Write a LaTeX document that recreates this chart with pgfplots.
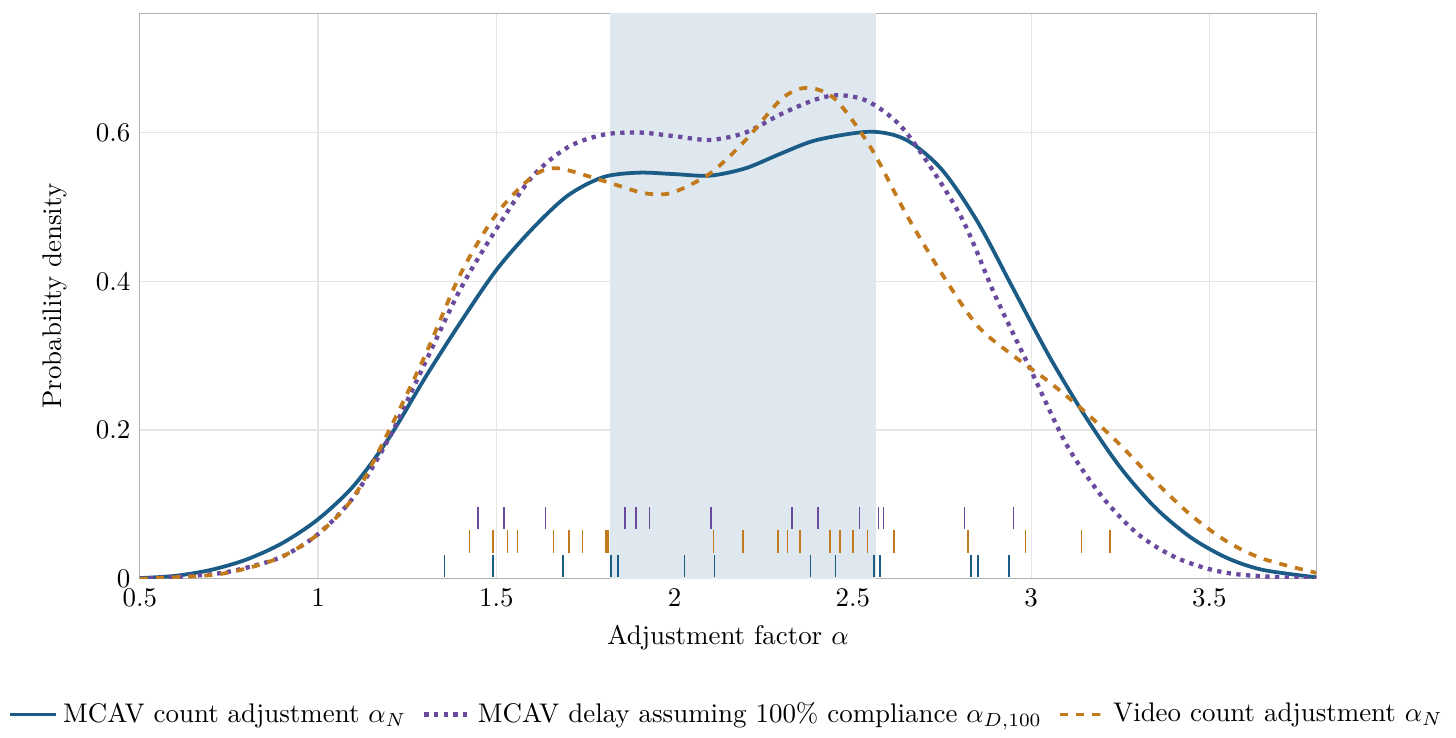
\documentclass[border=0pt]{standalone}
\usepackage{pgfplots}
\pgfplotsset{compat=1.18}
\definecolor{cb}{HTML}{1B5C87}
\definecolor{cp}{HTML}{6A4A9E}
\definecolor{co}{HTML}{C27A1C}
\definecolor{sh}{HTML}{DFE8EF}
\begin{document}
\begin{tikzpicture}
\begin{axis}[scale only axis, width=437pt, height=210pt,
 xmin=0.5, xmax=3.8, ymin=0, ymax=0.76,
 xtick={0.5,1,1.5,2,2.5,3,3.5}, ytick={0,0.2,0.4,0.6},
 xticklabels={0.5,1,1.5,2,2.5,3,3.5},
 yticklabels={0,0.2,0.4,0.6},
 grid=major, grid style={gray!20}, axis line style={gray!60},
 tick style={draw=none},
 xlabel={Adjustment factor $\alpha$}, ylabel={Probability density},
 ylabel style={yshift=4pt},
 legend style={at={(0.5,-0.24)}, anchor=center, draw=none, legend columns=3, /tikz/every even column/.append style={column sep=4pt}},
 legend cell align=left]
\fill[sh] (axis cs:1.82,0) rectangle (axis cs:2.565,0.76);
\addplot[cb, line width=1.4pt, smooth] coordinates {(0.5,0.001)(0.6,0.004)(0.7,0.012)(0.8,0.026)(0.9,0.048)(1.0,0.08)(1.1,0.125)(1.2,0.19)(1.3,0.27)(1.4,0.345)(1.5,0.415)(1.6,0.47)(1.7,0.515)(1.8,0.54)(1.9,0.546)(2.0,0.544)(2.1,0.542)(2.2,0.552)(2.3,0.572)(2.4,0.59)(2.55,0.601)(2.65,0.59)(2.75,0.55)(2.85,0.48)(2.95,0.39)(3.05,0.3)(3.15,0.22)(3.25,0.15)(3.35,0.095)(3.45,0.055)(3.55,0.028)(3.65,0.012)(3.8,0.002)};
\addlegendentry{MCAV count adjustment $\alpha_N$}
\addplot[cp, line width=1.6pt, dotted, smooth] coordinates {(0.5,0)(0.7,0.006)(0.8,0.015)(0.9,0.03)(1.0,0.06)(1.1,0.11)(1.2,0.19)(1.3,0.29)(1.4,0.39)(1.5,0.47)(1.6,0.54)(1.7,0.58)(1.8,0.597)(1.9,0.6)(2.0,0.595)(2.1,0.59)(2.2,0.6)(2.3,0.625)(2.4,0.645)(2.47,0.65)(2.55,0.64)(2.65,0.6)(2.8,0.49)(2.9,0.38)(3.0,0.28)(3.1,0.18)(3.2,0.11)(3.3,0.06)(3.4,0.03)(3.5,0.013)(3.6,0.005)(3.8,0)};
\addlegendentry{MCAV delay assuming 100\% compliance $\alpha_{D,100}$}
\addplot[co, line width=1.4pt, dashed, smooth] coordinates {(0.5,0)(0.7,0.005)(0.8,0.014)(0.9,0.03)(1.0,0.06)(1.1,0.11)(1.2,0.2)(1.3,0.3)(1.4,0.41)(1.5,0.49)(1.6,0.54)(1.67,0.552)(1.8,0.535)(1.9,0.52)(1.95,0.517)(2.0,0.52)(2.1,0.545)(2.2,0.59)(2.3,0.645)(2.37,0.66)(2.45,0.645)(2.55,0.58)(2.65,0.49)(2.75,0.41)(2.85,0.34)(2.95,0.3)(3.05,0.265)(3.15,0.225)(3.25,0.18)(3.35,0.13)(3.45,0.085)(3.55,0.05)(3.65,0.027)(3.8,0.008)};
\addlegendentry{Video count adjustment $\alpha_N$}
\addplot[cb, draw=none, forget plot, error bars/.cd, y dir=both, y fixed=0.015, error bar style={cb, line width=0.6pt}, error mark=none] coordinates {(1.355,0.017)(1.490,0.017)(1.687,0.017)(1.822,0.017)(1.841,0.017)(2.028,0.017)(2.112,0.017)(2.381,0.017)(2.452,0.017)(2.559,0.017)(2.577,0.017)(2.832,0.017)(2.852,0.017)(2.938,0.017)};
\addplot[co, draw=none, forget plot, error bars/.cd, y dir=both, y fixed=0.015, error bar style={co, line width=0.6pt}, error mark=none] coordinates {(1.425,0.05)(1.490,0.05)(1.531,0.05)(1.560,0.05)(1.661,0.05)(1.704,0.05)(1.742,0.05)(1.808,0.05)(1.814,0.05)(2.109,0.05)(2.192,0.05)(2.291,0.05)(2.317,0.05)(2.352,0.05)(2.436,0.05)(2.464,0.05)(2.501,0.05)(2.541,0.05)(2.615,0.05)(2.823,0.05)(2.984,0.05)(3.141,0.05)(3.222,0.05)};
\addplot[cp, draw=none, forget plot, error bars/.cd, y dir=both, y fixed=0.015, error bar style={cp, line width=0.6pt}, error mark=none] coordinates {(1.449,0.082)(1.522,0.082)(1.638,0.082)(1.861,0.082)(1.892,0.082)(1.930,0.082)(2.103,0.082)(2.329,0.082)(2.403,0.082)(2.519,0.082)(2.572,0.082)(2.586,0.082)(2.813,0.082)(2.951,0.082)};
\end{axis}
\path ([yshift=5pt]current axis.north);
\end{tikzpicture}
\end{document}
